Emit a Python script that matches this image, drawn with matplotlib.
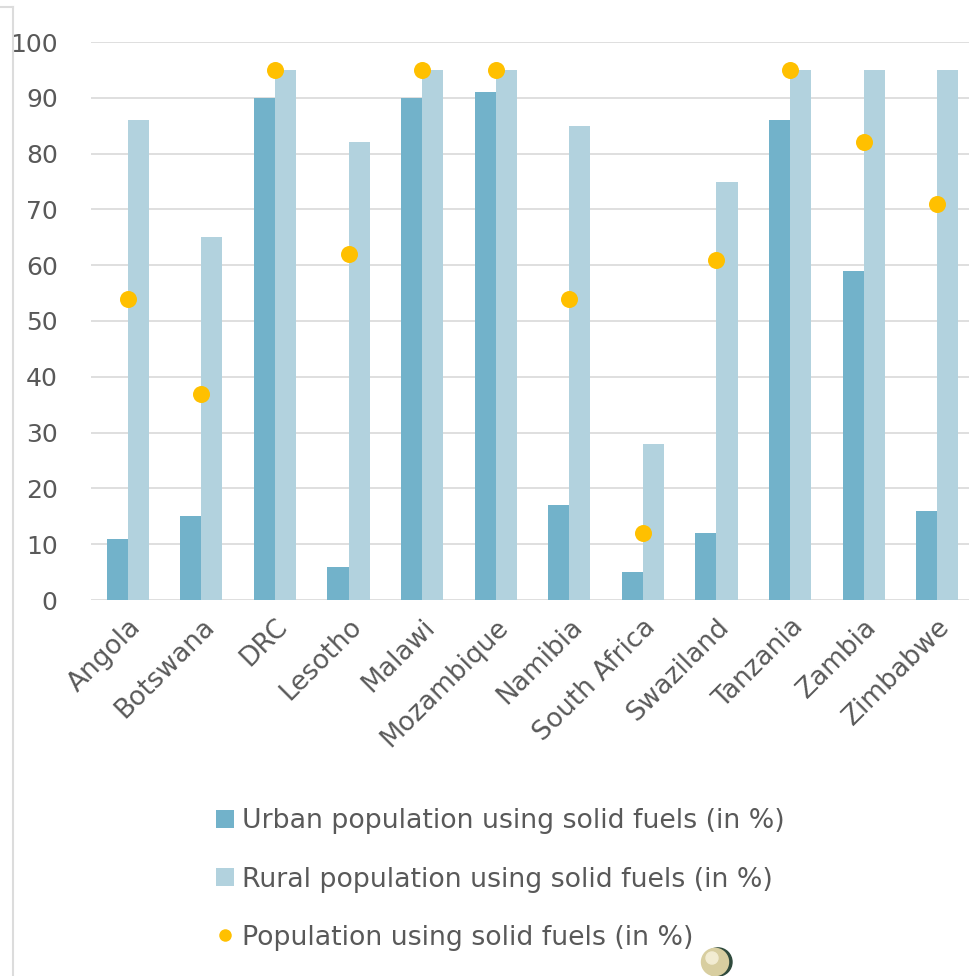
import numpy as np
import matplotlib.pyplot as plt
from matplotlib.lines import Line2D
from matplotlib.patches import Circle

# Daten
laender = ['Angola', 'Botswana', 'DRC', 'Lesotho', 'Malawi', 'Mozambique',
           'Namibia', 'South Africa', 'Swaziland', 'Tanzania', 'Zambia', 'Zimbabwe']
urban = [11, 15, 90, 6, 90, 91, 17, 5, 12, 86, 59, 16]
rural = [86, 65, 95, 82, 95, 95, 85, 28, 75, 95, 95, 95]
gesamt = [54, 37, 95, 62, 95, 95, 54, 12, 61, 95, 82, 71]
y_ticks = [0, 10, 20, 30, 40, 50, 60, 70, 80, 90, 100]

label_urban = 'Urban population using solid fuels (in %)'
label_rural = 'Rural population using solid fuels (in %)'
label_gesamt = 'Population using solid fuels (in %)'

c_urban = '#72b2ca'
c_rural = '#b2d2de'
c_punkt = '#ffc000'
c_text = '#595959'
c_grid = '#dcdcdc'

plt.rcParams['font.family'] = ['DejaVu Sans']

fig = plt.figure(figsize=(9.69, 9.76), dpi=100)
ax = fig.add_axes([91 / 969, 1 - 600 / 976, 883 / 969, 558 / 976])

x = np.arange(len(laender))
w = 0.286
ax.bar(x - w / 2, urban, width=w, color=c_urban, zorder=2)
ax.bar(x + w / 2, rural, width=w, color=c_rural, zorder=2)
ax.scatter(x, gesamt, s=150, color=c_punkt, zorder=3, linewidths=0)

ax.set_xlim(-0.5, len(laender) - 0.5)
ax.set_ylim(0, 100)
ax.set_yticks(y_ticks)
ax.grid(axis='y', color=c_grid, linewidth=1.3, zorder=0)
ax.set_axisbelow(True)
for s in ax.spines.values():
    s.set_visible(False)
ax.tick_params(axis='both', length=0, labelcolor=c_text)
ax.tick_params(axis='y', pad=24, labelsize=18)
ax.set_xticks(x)
ax.set_xticklabels(laender, rotation=45, ha='right', rotation_mode='anchor')
ax.tick_params(axis='x', pad=10, labelsize=19)

# Legende
handles = [
    Line2D([], [], marker='s', linestyle='none', markersize=12.5,
           markerfacecolor=c_urban, markeredgewidth=0),
    Line2D([], [], marker='s', linestyle='none', markersize=12.5,
           markerfacecolor=c_rural, markeredgewidth=0),
    Line2D([], [], marker='o', linestyle='none', markersize=9,
           markerfacecolor=c_punkt, markeredgewidth=0),
]
leg = fig.legend(handles, [label_urban, label_rural, label_gesamt],
                 loc='upper left', bbox_to_anchor=(198 / 969, 1 - 795 / 976),
                 frameon=False, fontsize=19.3, labelspacing=1.2,
                 handletextpad=0.15, handlelength=1.0, borderpad=0)
for t in leg.get_texts():
    t.set_color(c_text)

# Rahmenlinie links
fig.add_artist(Line2D([13 / 969, 13 / 969], [1 - 7 / 976, 0], color='#dcdcdc',
                      linewidth=1.5, transform=fig.transFigure))
fig.add_artist(Line2D([0, 13 / 969], [1 - 7 / 976, 1 - 7 / 976], color='#dcdcdc',
                      linewidth=1.5, transform=fig.transFigure))

# Kugel unten
fig.add_artist(Circle((718 / 969, 1 - 962 / 976), 14 / 969, transform=fig.transFigure,
                      color='#2f4a3c'))
fig.add_artist(Circle((715 / 969, 1 - 962 / 976), 13.5 / 969, transform=fig.transFigure,
                      color='#d8cea0'))
fig.add_artist(Circle((712 / 969, 1 - 958 / 976), 6 / 969, transform=fig.transFigure,
                      color='#f2ecd2'))

fig.savefig('out.png', dpi=100)
